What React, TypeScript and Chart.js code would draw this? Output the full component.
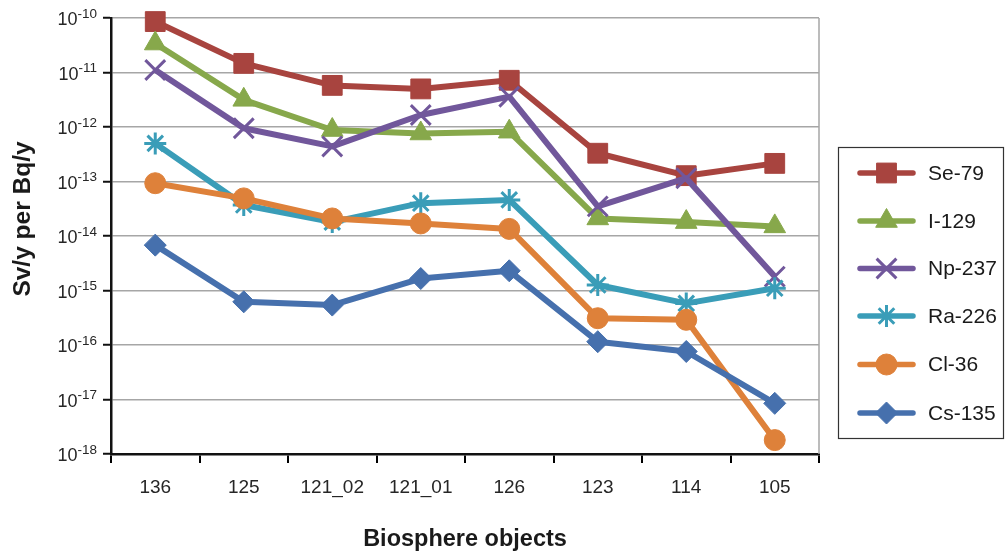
import React, { useEffect, useRef } from "react";
import { Chart, registerables } from "chart.js";
import * as helpers from "chart.js/helpers";

Chart.register(...registerables);

const categories = ["136", "125", "121_02", "121_01", "126", "123", "114", "105"];
const se79 = [8.6e-11, 1.47e-11, 5.8e-12, 5.0e-12, 7.2e-12, 3.3e-13, 1.28e-13, 2.15e-13];
const i129 = [3.4e-11, 3.15e-12, 8.8e-13, 7.6e-13, 8.2e-13, 2.1e-14, 1.8e-14, 1.5e-14];
const np237 = [1.11e-11, 9.5e-13, 4.4e-13, 1.66e-12, 3.6e-12, 3.5e-14, 1.15e-13, 1.8e-15];
const ra226 = [5.0e-13, 3.7e-14, 1.8e-14, 4.0e-14, 4.6e-14, 1.26e-15, 5.8e-16, 1.1e-15];
const cl36 = [9.3e-14, 4.9e-14, 2.1e-14, 1.7e-14, 1.35e-14, 3.1e-16, 2.9e-16, 1.8e-18];
const cs135 = [6.8e-15, 6.2e-16, 5.4e-16, 1.66e-15, 2.3e-15, 1.15e-16, 7.6e-17, 8.5e-18];
const yExponents = [-18, -17, -16, -15, -14, -13, -12, -11, -10];
const xTitle = "Biosphere objects";
const yTitle = "Sv/y per Bq/y";

const FONT = "'Liberation Sans', Arial, Helvetica, sans-serif";

const seriesDefs = [
  { label: "Se-79", data: se79, color: "#A8443F", style: "rect", radius: 14, bw: 1 },
  { label: "I-129", data: i129, color: "#87A84B", style: "triangle", radius: 12.5, bw: 1 },
  { label: "Np-237", data: np237, color: "#71579B", style: "crossRot", radius: 14, bw: 3 },
  { label: "Ra-226", data: ra226, color: "#3A9DB8", style: "star", radius: 11, bw: 3 },
  { label: "Cl-36", data: cl36, color: "#DE813A", style: "circle", radius: 10.5, bw: 1 },
  { label: "Cs-135", data: cs135, color: "#4670AD", style: "rectRot", radius: 11, bw: 1 },
];

const decorPlugin = {
  id: "decor",
  afterDraw(chart: any) {
    const ctx = chart.ctx;
    const area = chart.chartArea;
    const y = chart.scales.y;
    ctx.save();
    // right border of plot area
    ctx.strokeStyle = "#a6a6a6";
    ctx.lineWidth = 1.5;
    ctx.beginPath();
    ctx.moveTo(area.right, area.top);
    ctx.lineTo(area.right, area.bottom);
    ctx.stroke();

    // y tick labels with superscripts
    ctx.fillStyle = "#262626";
    ctx.textBaseline = "middle";
    const rightX = 97;
    for (const e of yExponents) {
      const py = y.getPixelForValue(Math.pow(10, e));
      const sup = String(e);
      ctx.font = `13.5px ${FONT}`;
      const supW = ctx.measureText(sup).width;
      ctx.textAlign = "right";
      ctx.fillText(sup, rightX, py - 4);
      ctx.font = `18px ${FONT}`;
      ctx.fillText("10", rightX - supW, py + 2.5);
    }

    // axis titles
    ctx.fillStyle = "#1a1a1a";
    ctx.font = `bold 23.5px ${FONT}`;
    ctx.textAlign = "center";
    ctx.textBaseline = "middle";
    ctx.fillText(xTitle, (area.left + area.right) / 2, 540);
    ctx.save();
    ctx.translate(23, 219);
    ctx.rotate(-Math.PI / 2);
    ctx.font = `bold 24.5px ${FONT}`;
    ctx.fillText(yTitle, 0, 0);
    ctx.restore();

    // legend
    ctx.strokeStyle = "#333";
    ctx.lineWidth = 1.2;
    ctx.strokeRect(838.5, 147.5, 165, 291);
    const rows = [173, 221, 268.5, 316, 364.5, 413];
    seriesDefs.forEach((s, i) => {
      const ly = rows[i];
      ctx.strokeStyle = s.color;
      ctx.lineWidth = 5.5;
      ctx.lineCap = "round";
      ctx.beginPath();
      ctx.moveTo(860, ly);
      ctx.lineTo(913, ly);
      ctx.stroke();
      ctx.fillStyle = s.color;
      ctx.strokeStyle = s.color;
      ctx.lineWidth = s.bw;
      ctx.lineCap = "butt";
      helpers.drawPoint(ctx, { pointStyle: s.style, radius: s.radius, rotation: 0, borderWidth: s.bw }, 886.5, ly);
      ctx.fillStyle = "#1a1a1a";
      ctx.font = `21px ${FONT}`;
      ctx.textAlign = "left";
      ctx.textBaseline = "middle";
      ctx.fillText(s.label, 928, ly + 1);
    });
    ctx.restore();
  },
};

export default function App() {
  const ref = useRef<HTMLCanvasElement | null>(null);
  useEffect(() => {
    document.body.style.margin = "0";
    const canvas = ref.current!;
    const n = seriesDefs.length;
    const chart = new Chart(canvas, {
      type: "line",
      data: {
        labels: categories,
        datasets: seriesDefs.map((s, i) => ({
          label: s.label,
          data: s.data,
          borderColor: s.color,
          backgroundColor: s.color,
          borderWidth: 6,
          pointStyle: s.style as any,
          pointRadius: s.radius,
          pointHoverRadius: s.radius,
          pointBorderWidth: s.bw,
          pointBackgroundColor: s.color,
          pointBorderColor: s.color,
          tension: 0,
          clip: false as any,
          order: n - i,
          borderJoinStyle: "round" as any,
        })),
      },
      options: {
        animation: false,
        responsive: false,
        devicePixelRatio: 1,
        layout: { padding: { top: 18, right: 186, left: 0, bottom: 0 } },
        plugins: { legend: { display: false }, tooltip: { enabled: false } },
        events: [],
        scales: {
          x: {
            type: "category",
            offset: true,
            grid: {
              offset: true,
              drawOnChartArea: false,
              drawTicks: true,
              tickLength: 9,
              color: "#000",
              lineWidth: 2,
            },
            border: { color: "#111", width: 2.5 },
            ticks: {
              color: "#262626",
              font: { family: FONT, size: 19 },
              padding: 13,
              maxRotation: 0,
              autoSkip: false,
            },
            afterFit(scale: any) {
              scale.height = 99;
            },
          },
          y: {
            type: "logarithmic",
            min: 1e-18,
            max: 1e-10,
            grid: {
              color: "#a6a6a6",
              lineWidth: 1.5,
              drawTicks: true,
              tickLength: 8,
              tickColor: "#111",
              tickWidth: 2,
            },
            border: { color: "#111", width: 2.5 },
            ticks: { callback: () => "", padding: 0 },
            afterBuildTicks(scale: any) {
              scale.ticks = yExponents.map((e) => ({ value: Math.pow(10, e) }));
            },
            afterFit(scale: any) {
              scale.width = 111;
            },
          },
        },
      },
      plugins: [decorPlugin],
    });
    return () => chart.destroy();
  }, []);
  return (
    <div style={{ width: 1005, height: 553, background: "#fff" }}>
      <canvas ref={ref} width={1005} height={553} style={{ display: "block" }} />
    </div>
  );
}
